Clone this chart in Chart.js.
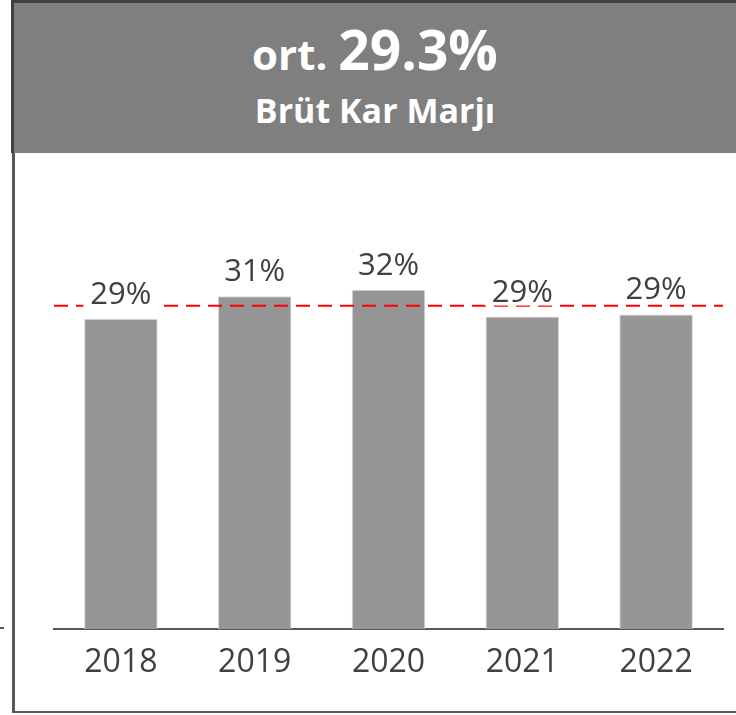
<!DOCTYPE html>
<html>
<head>
<meta charset="utf-8">
<script src="https://cdn.jsdelivr.net/npm/chart.js@4.4.1/dist/chart.umd.min.js"></script>
<style>
  body { margin: 0; background: #fff; width: 736px; height: 715px; overflow: hidden; position: relative; font-family: "Open Sans", sans-serif; }
  #frame { position: absolute; left: 12px; top: 0; width: 724px; height: 711px; border-left: 3px solid #595959; border-bottom: 2px solid #595959; }
  #head { position: absolute; left: 11px; top: 0; width: 722px; height: 150px; background: #7f7f7f; border-top: 3px solid #404040; border-left: 3px solid #404040; color: #fff; text-align: center; font-weight: bold; }
  #l1 { position: absolute; left: 0; width: 100%; top: 16px; font-size: 42px; line-height: 60px; }
  #l1 span { font-size: 55px; }
  #l2 { position: absolute; left: 0; width: 100%; top: 87px; font-size: 34px; line-height: 40px; }
  #tick { position: absolute; left: 0; top: 627px; width: 4px; height: 2px; background: #595959; }
  #wrap { position: absolute; left: 15px; top: 153px; width: 721px; height: 560px; }
</style>
</head>
<body>
<div id="frame"></div>
<div id="head">
  <div id="l1">ort. <span>29.3%</span></div>
  <div id="l2">Brüt Kar Marjı</div>
</div>
<div id="tick"></div>
<div id="wrap"><canvas id="chart" width="721" height="560"></canvas></div>
<script>
    "use strict";

    // Veriler
    var years = ["2018", "2019", "2020", "2021", "2022"];
    var margins = [29.0, 31.1, 31.7, 29.2, 29.4];
    var marginLabels = ["29%", "31%", "32%", "29%", "29%"];
    var avgLine = 30.2;

    // Ortalama çizgisi + değer etiketleri
    var overlay = {
        id: "overlay",
        afterDatasetsDraw: function (chart) {
            var ctx = chart.ctx;
            var area = chart.chartArea;
            var y = chart.scales.y.getPixelForValue(avgLine);
            ctx.save();
            ctx.strokeStyle = "#ff0000";
            ctx.lineWidth = 2;
            ctx.setLineDash([14, 8]);
            ctx.beginPath();
            ctx.moveTo(area.left, y);
            ctx.lineTo(area.right, y);
            ctx.stroke();
            ctx.setLineDash([]);

            var meta = chart.getDatasetMeta(0);
            ctx.font = "31px 'Open Sans'";
            ctx.textAlign = "center";
            ctx.textBaseline = "alphabetic";
            meta.data.forEach(function (bar, i) {
                var w = ctx.measureText(marginLabels[i]).width;
                var base = bar.y - 15;
                ctx.fillStyle = "#fff";
                ctx.fillRect(bar.x - w / 2 - 7, base - 26, w + 14, 30);
                ctx.fillStyle = "#404040";
                ctx.fillText(marginLabels[i], bar.x, base);
            });
            ctx.restore();
        }
    };

    var ctx = document.getElementById("chart").getContext("2d");
    var myChart = new Chart(ctx, {
        type: "bar",
        data: {
            labels: years,
            datasets: [{
                data: margins,
                backgroundColor: "#969696",
                borderColor: "#d9d9d9",
                borderWidth: 1,
                borderSkipped: "bottom",
                categoryPercentage: 1,
                barPercentage: 0.55
            }]
        },
        options: {
            responsive: false,
            animation: false,
            layout: { padding: { left: 39, right: 13, top: 48, bottom: 0 } },
            plugins: { legend: { display: false }, tooltip: { enabled: false } },
            scales: {
                y: { display: false, min: 0, max: 40 },
                x: {
                    grid: { display: false, drawTicks: false },
                    border: { display: true, color: "#595959", width: 2 },
                    ticks: { color: "#404040", font: { family: "Open Sans", size: 32 }, padding: 15 },
                    afterFit: function (scale) { scale.height = 84; }
                }
            }
        },
        plugins: [overlay]
    });
</script>
</body>
</html>
